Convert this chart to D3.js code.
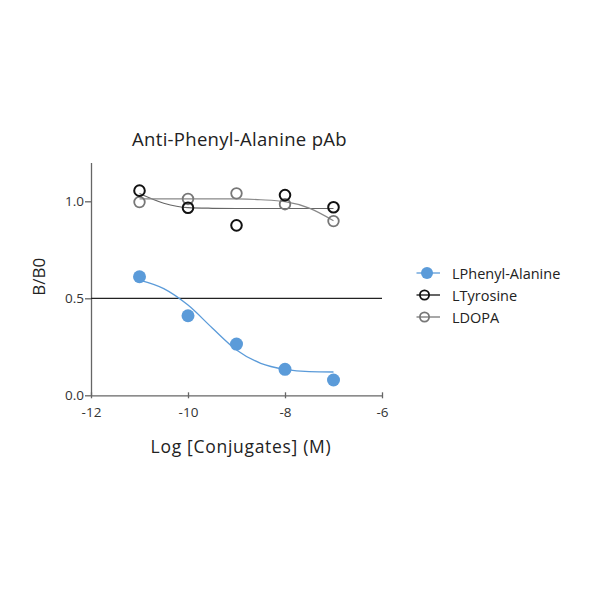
<!DOCTYPE html>
<html><head><meta charset="utf-8">
<script src="https://cdn.jsdelivr.net/npm/d3@7"></script>
<style>body{margin:0;background:#fff}svg{font-family:"Open Sans",sans-serif}</style>
</head><body><svg id="c" width="600" height="600"></svg>
<script>
const xTicks = [-12, -10, -8, -6];
const yTicks = [0.0, 0.5, 1.0];
const logConc = [-11, -10, -9, -8, -7];
const phenyl = [0.611, 0.41, 0.264, 0.134, 0.079];
const tyrosine = [1.055, 0.967, 0.876, 1.032, 0.969];
const dopa = [0.996, 1.012, 1.041, 0.985, 0.898];
// fitted curves
const fitX = [-11, -10.5, -10, -9.5, -9, -8.5, -8, -7.5, -7];
const phenylFit = [0.594, 0.55, 0.465, 0.347, 0.234, 0.165, 0.134, 0.122, 0.12];
const tyrosineFit = [1.04, 0.99, 0.967, 0.964, 0.963, 0.963, 0.963, 0.963, 0.963];
const dopaFit = [1.012, 1.013, 1.013, 1.013, 1.012, 1.008, 0.998, 0.965, 0.9];
const seriesNames = ["LPhenyl-Alanine", "LTyrosine", "LDOPA"];

const svg = d3.select("#c");
const x = d3.scaleLinear().domain([-12, -6]).range([91, 382]);
const y = d3.scaleLinear().domain([0, 1.2]).range([395.3, 162.5]);
const axisColor = "#666";
const hy = s => String(s).replace("\u2212", "-");

// axes
const gx = svg.append("g").attr("transform", "translate(0,395.3)")
  .call(d3.axisBottom(x).tickValues(xTicks).tickFormat(d => hy(d3.format("d")(d))).tickSize(4).tickSizeOuter(0));
const gy = svg.append("g").attr("transform", "translate(91,0)")
  .call(d3.axisLeft(y).tickValues(yTicks).tickFormat(d3.format(".1f")).tickSize(6).tickPadding(1).tickSizeOuter(0));
[gx, gy].forEach(g => {
  g.select(".domain").attr("stroke", axisColor).attr("stroke-width", 1.3);
  g.selectAll(".tick line").attr("stroke", axisColor).attr("stroke-width", 1.3);
  g.selectAll(".tick text").attr("fill", "#333").style("font-size", "13.5px").style("font-family", "Open Sans");
});
gx.selectAll(".tick line").attr("y1", -3).attr("y2", 3);
gx.selectAll(".tick text").attr("y", 0).attr("dy", 0).attr("transform", "translate(0,22)");

// 0.5 reference line
svg.append("line").attr("x1", x(-12)).attr("x2", x(-6)).attr("y1", y(0.5)).attr("y2", y(0.5))
  .attr("stroke", "#222").attr("stroke-width", 1.2);

const line = d3.line().x(d => x(d[0])).y(d => y(d[1])).curve(d3.curveMonotoneX);
const blue = "#5b9bd9";
svg.append("path").datum(fitX.map((v, i) => [v, phenylFit[i]])).attr("d", line)
  .attr("fill", "none").attr("stroke", blue).attr("stroke-width", 1.3);
svg.append("path").datum(fitX.map((v, i) => [v, tyrosineFit[i]])).attr("d", line)
  .attr("fill", "none").attr("stroke", "#666").attr("stroke-width", 1.2);
svg.append("path").datum(fitX.map((v, i) => [v, dopaFit[i]])).attr("d", line)
  .attr("fill", "none").attr("stroke", "#888").attr("stroke-width", 1.2);

svg.selectAll("circle.dopa").data(logConc.map((v, i) => [v, dopa[i]])).join("circle")
  .attr("cx", d => x(d[0])).attr("cy", d => y(d[1])).attr("r", 5.3)
  .attr("fill", "none").attr("stroke", "#777").attr("stroke-width", 1.8);
svg.selectAll("circle.tyr").data(logConc.map((v, i) => [v, tyrosine[i]])).join("circle")
  .attr("cx", d => x(d[0])).attr("cy", d => y(d[1])).attr("r", 5.3)
  .attr("fill", "none").attr("stroke", "#111").attr("stroke-width", 2);
svg.selectAll("circle.phe").data(logConc.map((v, i) => [v, phenyl[i]])).join("circle")
  .attr("cx", d => x(d[0])).attr("cy", d => y(d[1])).attr("r", 6.5)
  .attr("fill", blue);

// title & labels
svg.append("text").attr("x", 239.5).attr("y", 146).attr("text-anchor", "middle")
  .style("font-size", "18.5px").style("letter-spacing", "0.3px").attr("fill", "#222").text("Anti-Phenyl-Alanine pAb");
svg.append("text").attr("x", 241).attr("y", 453).attr("text-anchor", "middle")
  .style("font-size", "17.5px").style("letter-spacing", "0.7px").attr("fill", "#222").text("Log [Conjugates] (M)");
svg.append("text").attr("transform", "translate(45,276.7) rotate(-90)").attr("text-anchor", "middle")
  .style("font-size", "17px").attr("fill", "#222").text("B/B0");

// legend
const legColors = [blue, "#111", "#777"];
seriesNames.forEach((n, i) => {
  const ly = 273 + i * 22;
  const g = svg.append("g");
  g.append("line").attr("x1", 416.5).attr("x2", 440).attr("y1", ly).attr("y2", ly)
    .attr("stroke", legColors[i]).attr("stroke-width", 1.3);
  if (i === 0) g.append("circle").attr("cx", 427).attr("cy", ly).attr("r", 6).attr("fill", blue);
  else g.append("circle").attr("cx", 424.5).attr("cy", ly).attr("r", 4.6).attr("fill", "none")
    .attr("stroke", legColors[i]).attr("stroke-width", 1.8);
  g.append("text").attr("x", 452).attr("y", ly + 5.5).style("font-size", "14.5px").attr("fill", "#222").text(n);
});
</script></body></html>
